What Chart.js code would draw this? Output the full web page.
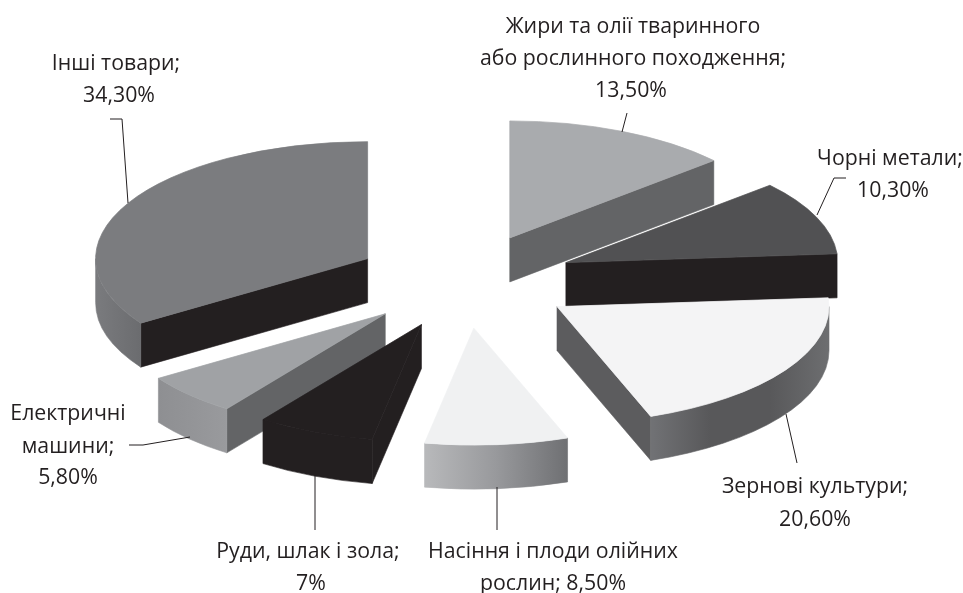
<!DOCTYPE html>
<html>
<head>
<meta charset="utf-8">
<style>
  html, body { margin: 0; padding: 0; background: #fff; }
  canvas { display: block; }
</style>
</head>
<body>
<canvas id="myChart" width="963" height="593"></canvas>
<script src="https://cdn.jsdelivr.net/npm/chart.js@4/dist/chart.umd.min.js"></script>
<script>
const categories = ['Жири та олії тваринного або рослинного походження', 'Чорні метали', 'Зернові культури',
    'Насіння і плоди олійних рослин', 'Руди, шлак і зола', 'Електричні машини', 'Інші товари'];
const shares = [13.5, 10.3, 20.6, 8.5, 7, 5.8, 34.3];

// colours of the three kinds of faces
const topColors = ['#a9abae', '#515153', '#f4f4f5', '#f0f1f2', '#231f20', '#a0a2a5', '#7b7c7f'];
const cutColors = ['#636466', '#231f20', '#5c5c5e', '#5c5c5e', '#231f20', '#636466', '#231f20'];
const wallColors = [
    ['#636466', '#636466'],
    ['#231f20', '#231f20'],
    ['#717275', '#58585a', '#58585a', '#6d6e70'],
    ['#b8b9bb', '#98999c', '#6f7073'],
    ['#231f20', '#231f20'],
    ['#8e8f92', '#999a9d'],
    ['#7a7b7e', '#6b6c6f']
];

// text and leader lines around the pie
const labelLines = [
    ['Жири та олії тваринного', 633, 33], ['або рослинного походження;', 633, 65], ['13,50%', 631, 97],
    ['Чорні метали;', 890, 165], ['10,30%', 893, 197],
    ['Зернові культури;', 815, 493], ['20,60%', 815, 526],
    ['Насіння і плоди олійних', 553, 558], ['рослин; 8,50%', 553, 590],
    ['Руди, шлак і зола;', 308, 558], ['7%', 311, 590],
    ['Електричні', 68, 420], ['машини;', 68, 453], ['5,80%', 68, 484],
    ['Інші товари;', 116, 70], ['34,30%', 119, 102]
];
const leaders = [
    [[627, 113], [622, 132]],
    [[846, 178], [834, 178], [817, 215]],
    [[786, 414], [797, 463]],
    [[497, 487], [497, 530]],
    [[315, 476], [315, 530]],
    [[129, 445], [143, 445], [190, 437]],
    [[110, 119], [122, 119], [128, 203]]
];

const tilt = 0.43;
const depth = 44;
const explode = 110;
const pieRadius = 272;

function wallFill (ctx, x1, x2, stops) {
    const g = ctx.createLinearGradient(x1, 0, x2, 0);
    stops.forEach((c, i) => g.addColorStop(i / (stops.length - 1), c));
    return g;
}

function paint (ctx, fill) {
    ctx.fillStyle = fill;
    ctx.strokeStyle = fill;
    ctx.lineWidth = 0.6;
    ctx.fill();
    ctx.stroke();
}

function drawCut (ctx, cx, cy, r, a, color) {
    const ex = cx + r * Math.cos(a);
    const ey = cy + r * tilt * Math.sin(a);
    ctx.beginPath();
    ctx.moveTo(cx, cy);
    ctx.lineTo(ex, ey);
    ctx.lineTo(ex, ey + depth);
    ctx.lineTo(cx, cy + depth);
    ctx.closePath();
    paint(ctx, color);
}

const pie3d = {
    id: 'pie3d',
    beforeDatasetDraw (chart, args) {
        const ctx = chart.ctx;
        const arcs = args.meta.data.map((arc, i) => {
            const p = arc.getProps(['x', 'y', 'startAngle', 'endAngle', 'outerRadius']);
            const mid = (p.startAngle + p.endAngle) / 2;
            return {arc, i, p, mid, cx: p.x + explode * Math.cos(mid), cy: p.y + explode * tilt * Math.sin(mid)};
        });
        // back to front
        arcs.sort((a, b) => a.cy - b.cy);
        arcs.forEach(({arc, i, p, cx, cy}) => {
            const r = p.outerRadius;
            const s = p.startAngle;
            const e = p.endAngle;
            // a cut shows only when it faces the viewer
            if (Math.cos(s) < 0) drawCut(ctx, cx, cy, r, s, cutColors[i]);
            if (Math.cos(e) > 0) drawCut(ctx, cx, cy, r, e, cutColors[i]);
            // outer wall, front half only
            const a1 = Math.max(s, 0);
            const a2 = Math.min(e, Math.PI);
            if (a2 > a1) {
                ctx.beginPath();
                ctx.ellipse(cx, cy, r, r * tilt, 0, a1, a2);
                ctx.ellipse(cx, cy + depth, r, r * tilt, 0, a2, a1, true);
                ctx.closePath();
                paint(ctx, wallFill(ctx, cx + r * Math.cos(a2), cx + r * Math.cos(a1), wallColors[i]));
            }
            // top face through the library's own arc
            ctx.save();
            ctx.translate(cx, cy);
            ctx.scale(1, tilt);
            ctx.translate(-p.x, -p.y);
            arc.draw(ctx);
            ctx.restore();
        });
        return false;
    },
    afterDraw (chart) {
        const ctx = chart.ctx;
        ctx.save();
        ctx.strokeStyle = '#231f20';
        ctx.lineWidth = 1;
        leaders.forEach(pts => {
            ctx.beginPath();
            pts.forEach((q, i) => i ? ctx.lineTo(q[0], q[1]) : ctx.moveTo(q[0], q[1]));
            ctx.stroke();
        });
        ctx.fillStyle = '#231f20';
        ctx.font = '21.3px "Open Sans"';
        ctx.textAlign = 'center';
        ctx.textBaseline = 'alphabetic';
        labelLines.forEach(l => ctx.fillText(l[0], l[1], l[2]));
        ctx.restore();
    }
};

new Chart(document.getElementById('myChart').getContext('2d'), {
    type: 'pie',
    data: {
        labels: categories,
        datasets: [{
            data: shares,
            backgroundColor: topColors,
            borderColor: topColors,
            borderWidth: 1,
            hoverOffset: 0
        }]
    },
    options: {
        responsive: false,
        animation: false,
        radius: pieRadius,
        layout: {padding: {right: 34, bottom: 31}},
        plugins: {legend: {display: false}, tooltip: {enabled: false}}
    },
    plugins: [pie3d]
});
</script>
</body>
</html>
